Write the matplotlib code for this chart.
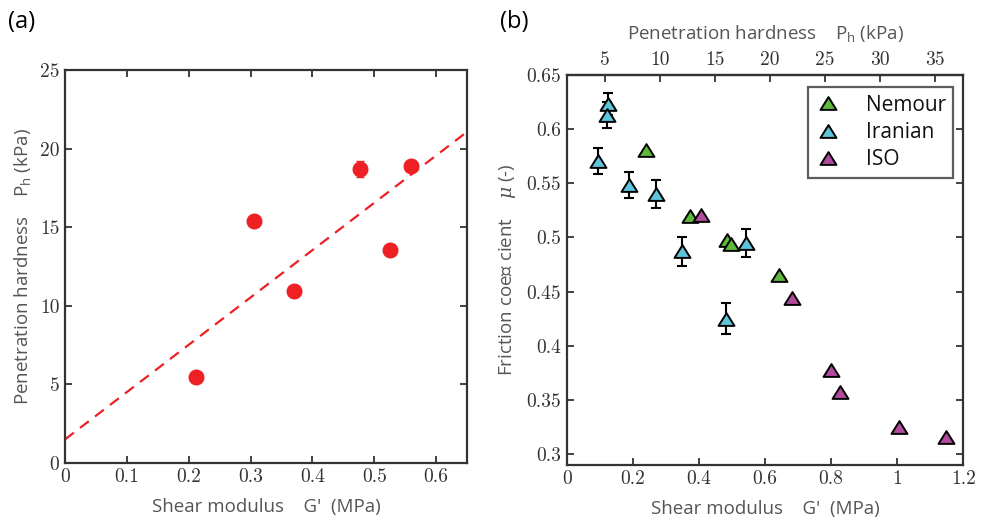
import matplotlib
matplotlib.use("Agg")
import matplotlib.pyplot as plt
import numpy as np
from matplotlib.path import Path

plt.rcParams['mathtext.fontset'] = 'custom'
plt.rcParams['mathtext.rm'] = 'Open Sans'
plt.rcParams['mathtext.it'] = 'DejaVu Serif:italic'

# ---------------- data (a) ----------------
a_G = [0.212, 0.305, 0.371, 0.477, 0.525, 0.560]
a_Ph = [5.45, 15.4, 10.95, 18.7, 13.55, 18.9]
a_err = [0.15, 0.15, 0.2, 0.5, 0.2, 0.35]
fit_intercept = 1.5
fit_slope = 30.1

# ---------------- data (b) ----------------
nem_G = [0.239, 0.373, 0.486, 0.496, 0.641]
nem_mu = [0.581, 0.520, 0.498, 0.494, 0.465]

ira_G = [0.126, 0.121, 0.096, 0.190, 0.269, 0.348, 0.544, 0.482]
ira_mu = [0.623, 0.613, 0.571, 0.548, 0.540, 0.487, 0.4945, 0.425]
ira_err = [0.010, 0.012, 0.012, 0.012, 0.0126, 0.013, 0.013, 0.014]

iso_G = [0.406, 0.683, 0.801, 0.827, 1.006, 1.149]
iso_mu = [0.521, 0.4444, 0.3776, 0.3573, 0.3253, 0.3154]

series_names = ['Nemour', 'Iranian', 'ISO']
series_colors = ['#5DB93B', '#5EC4DA', '#B24A9E']

a_xticks = [0, 0.1, 0.2, 0.3, 0.4, 0.5, 0.6]
a_yticks = [0, 5, 10, 15, 20, 25]
b_xticks = [0, 0.2, 0.4, 0.6, 0.8, 1.0, 1.2]
b_yticks = [0.3, 0.35, 0.4, 0.45, 0.5, 0.55, 0.6, 0.65]
b_topticks = [5, 10, 15, 20, 25, 30, 35]

AX_COL = '#333333'
LAB_COL = '#555555'
SANS = ['Open Sans', 'DejaVu Sans']
TICK_FS = 14

fig = plt.figure(figsize=(9.83, 5.32), dpi=100)
axA = fig.add_axes([65/983, (532-463)/532, 402/983, 393/532])
axB = fig.add_axes([566.7/983, (532-465)/532, 396.6/983, 390/532])

def style(ax):
    for s in ax.spines.values():
        s.set_color(AX_COL)
        s.set_linewidth(1.6)
    ax.tick_params(direction='in', length=5, width=1.3, color=AX_COL,
                   labelsize=TICK_FS, labelcolor='#333333', top=True, right=True,
                   pad=4)
    for lab in ax.get_xticklabels() + ax.get_yticklabels():
        lab.set_fontfamily('cmr10')

# ---- panel (a)
xx = np.array([0, 0.65])
axA.plot(xx, fit_intercept + fit_slope * xx, '--', color='#EE2024', lw=1.6,
         dashes=(5, 3.5))
axA.errorbar(a_G, a_Ph, yerr=a_err, fmt='o', color='#EE2024', ms=10.5,
             ecolor='#EE2024', elinewidth=1.3, capsize=3)
axA.set_xlim(0, 0.65)
axA.set_ylim(0, 25)
axA.set_xticks(a_xticks)
axA.set_xticklabels([f'{t:g}' for t in a_xticks])
axA.set_yticks(a_yticks)
axA.set_yticklabels([f'{t:g}' for t in a_yticks])
style(axA)
axA.set_xlabel("Shear modulus    G'  (MPa)", family=SANS, fontsize=13.5,
               color=LAB_COL, labelpad=8)
axA.set_ylabel("Penetration hardness    P$_{\\mathrm{h}}$ (kPa)", family=SANS,
               fontsize=13.5, color=LAB_COL, labelpad=5)

# ---- panel (b)
tri = Path([(-1, -0.8), (1, -0.8), (0, 0.8), (-1, -0.8)],
           [Path.MOVETO, Path.LINETO, Path.LINETO, Path.CLOSEPOLY])
mk = dict(marker=tri, ms=11.5, mec='black', mew=1.4, linestyle='none')

axB.errorbar(ira_G, ira_mu, yerr=ira_err, fmt='none', ecolor='black',
             elinewidth=1.5, capsize=3.5, capthick=1.5, zorder=2)
axB.plot(nem_G, nem_mu, mfc=series_colors[0], label=series_names[0], zorder=3, **mk)
axB.plot(ira_G, ira_mu, mfc=series_colors[1], label=series_names[1], zorder=3, **mk)
axB.plot(iso_G, iso_mu, mfc=series_colors[2], label=series_names[2], zorder=3, **mk)

axB.set_xlim(0, 1.2)
axB.set_ylim(0.2898, 0.65)
axB.set_xticks(b_xticks)
axB.set_xticklabels([f'{t:g}' for t in b_xticks])
axB.set_yticks(b_yticks)
axB.set_yticklabels([f'{t:g}' for t in b_yticks])
style(axB)
axB.tick_params(top=False)

sec = axB.secondary_xaxis('top',
                          functions=(lambda g: fit_intercept + fit_slope * g,
                                     lambda p: (p - fit_intercept) / fit_slope))
sec.set_xticks(b_topticks)
sec.set_xticklabels([f'{t:g}' for t in b_topticks])
sec.tick_params(direction='in', length=5, width=1.3, color=AX_COL,
                labelsize=TICK_FS, labelcolor='#333333', pad=4)
for lab in sec.get_xticklabels():
    lab.set_fontfamily('cmr10')
sec.spines['top'].set_color(AX_COL)
sec.spines['top'].set_linewidth(1.6)
sec.set_xlabel("Penetration hardness    P$_{\\mathrm{h}}$ (kPa)", family=SANS,
               fontsize=13.5, color=LAB_COL, labelpad=9)

axB.set_xlabel("Shear modulus    G'  (MPa)", family=SANS, fontsize=13.5,
               color=LAB_COL, labelpad=8)
axB.set_ylabel("Friction coe\u22A0 cient    $\\mu$ (-)", family=SANS,
               fontsize=13.5, color=LAB_COL, labelpad=6)

leg = axB.legend(loc='upper right', bbox_to_anchor=(0.974, 0.968),
                 prop={'family': SANS, 'size': 15}, frameon=True, fancybox=False,
                 edgecolor=AX_COL, handlelength=1.2, handletextpad=1.2,
                 borderpad=0.35, labelspacing=0.3, borderaxespad=0)
leg.get_frame().set_linewidth(1.6)
for t in leg.get_texts():
    t.set_color('#111111')

fig.text(8/983, 1 - 22/532, '(a)', family=SANS, fontsize=17, va='center', ha='left')
fig.text(500/983, 1 - 22/532, '(b)', family=SANS, fontsize=17, va='center', ha='left')

fig.savefig('out.png', dpi=100)
